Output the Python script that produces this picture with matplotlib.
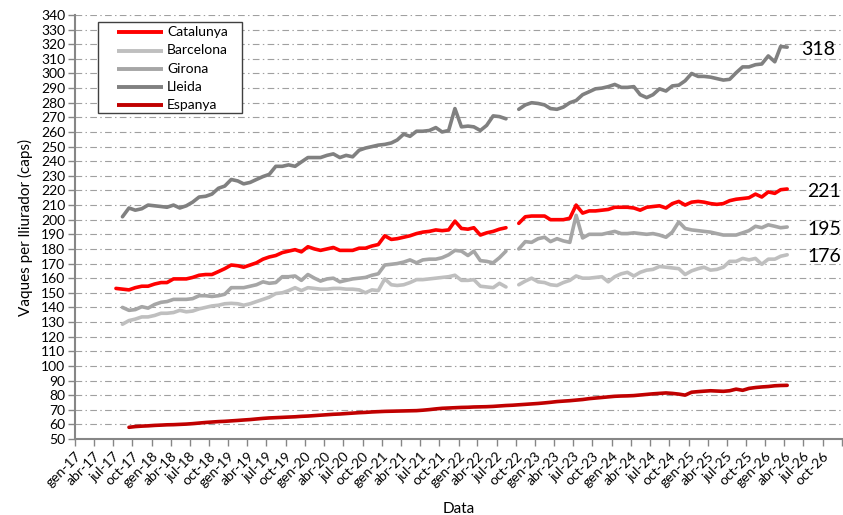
import matplotlib
matplotlib.use("Agg")
import matplotlib.pyplot as plt
from matplotlib.patches import Rectangle
from matplotlib.lines import Line2D
from matplotlib.transforms import ScaledTranslation
import pandas as pd
import numpy as np
from datetime import datetime

nan = np.nan

# ---- data (monthly values, one per month; NaN = missing) ----
catalunya_start = "2017-07-01"
catalunya = [
    153, 152.5, 152, 153.5, 154.5, 154.5,                                   # 2017 Jul-Dec
    156, 157, 157, 159.5, 159.5, 159.5, 160.5, 162, 162.5, 162.5, 164.5, 166.5,  # 2018
    169, 168.5, 167.5, 169, 170.5, 173, 174.5, 175.5, 177.5, 178.5, 179.5, 178,  # 2019
    181.5, 180, 179, 180, 181, 179, 179, 179, 180.5, 180.5, 182, 183,            # 2020
    189, 186.5, 187, 188, 189, 190.5, 191.5, 192, 193, 192.5, 193, 199,          # 2021
    194, 193.5, 194.5, 189.5, 191, 192, 193.5, 194.5, nan, 197.5, 202, 202.5,    # 2022
    202.5, 202.5, 200, 200, 200, 201, 210, 204.5, 206, 206, 206.5, 207,          # 2023
    208.5, 208.5, 208.5, 208, 206.5, 208.5, 209, 209.5, 208, 211, 212.5, 210,    # 2024
    212, 212.5, 212, 211, 210.5, 211, 213, 214, 214.5, 215, 217.5, 215.5,        # 2025
    219, 218, 220.5, 221,                                                        # 2026 Jan-Apr
]

barcelona_start = "2017-08-01"
barcelona = [
    128.5, 131, 132, 133.5, 133.5,
    134.5, 136, 136, 136.5, 138, 137, 137.5, 139, 140, 141, 141.5, 142.5,
    142.8, 142.5, 141.5, 142.5, 144, 145.5, 147, 149.5, 150, 151.5, 153.5, 151.5,
    153.5, 153, 152.5, 152.5, 153, 153, 152.5, 152.5, 152, 150, 152, 151.5,
    159.5, 155.5, 155, 155.5, 157, 159, 159, 159.5, 160, 160.5, 161, 162,
    158.5, 158.5, 159, 154.5, 154, 153.5, 156.5, 154, nan, 155.5, 158, 160,
    157.5, 157, 155.5, 155, 157, 158.5, 161.5, 160, 160, 160.5, 161, 157.5,
    161, 163, 164, 161.5, 164, 165.5, 166, 168, 167.5, 167, 166.5, 162.5,
    165, 166.5, 167.5, 165.5, 166, 167.5, 171.5, 171.5, 173.5, 172.5, 173.5, 169.5,
    173, 173, 175, 176,
]

girona_start = "2017-08-01"
girona = [
    140, 138, 138.5, 140.5, 139.5,
    142, 143.5, 144, 145.5, 145.5, 145.5, 146, 148, 148, 147.5, 148, 149,
    153.5, 153.5, 153.5, 154.5, 155.5, 157.5, 156.5, 157, 161, 161, 161.5, 158.5,
    162.5, 160, 158, 159.5, 160, 157.5, 158.5, 159.5, 160, 160.5, 162, 163,
    169, 169.5, 170, 171, 172.5, 170.5, 172.5, 173, 173, 174, 176, 179,
    178.5, 175.5, 178.5, 172, 171.5, 170.5, 174, 178.5, nan, 180, 185, 184.5,
    187, 188, 185, 187, 185.5, 184.5, 203, 187.5, 190, 190, 190, 191,
    192, 190.5, 190.5, 191, 190.5, 190, 190.5, 189.5, 188, 191.5, 198.5, 194,
    193, 192.5, 192, 191.5, 190.5, 189.5, 189.5, 189.5, 191, 192.5, 195.5, 194.5,
    196.5, 195.5, 194.5, 195,
]

lleida_start = "2017-08-01"
lleida = [
    202, 208, 206.5, 207.5, 210,
    209.5, 209, 208.5, 210, 208, 209.5, 212, 215.5, 216, 217.5, 221.5, 223,
    227.5, 226.5, 224.5, 225.5, 227.5, 229.5, 231, 236.5, 236.5, 237.5, 236.5, 239.5,
    242.5, 242.5, 242.5, 244, 245, 242.5, 244, 243, 247.5, 249, 250, 251,
    251.5, 252.5, 254.5, 258.5, 257, 260.5, 260.5, 261, 263, 260, 261, 276,
    263.5, 264, 263.5, 261, 264.5, 271, 270.5, 269, nan, 275.5, 278.5, 280,
    279.5, 278.5, 276, 275.5, 277, 280, 281.5, 285.5, 287.5, 289.5, 290, 291,
    292.5, 290.5, 290.5, 291, 285.5, 283.5, 285.5, 289.5, 288, 291.5, 292, 295,
    300, 298, 298, 297.5, 296.5, 295.5, 296, 300.5, 304.5, 304.5, 306, 306.5,
    312, 308, 318.5, 318,
]

espanya_start = "2017-09-01"
espanya = [
    58, 58.5, 58.8, 59,
    59.3, 59.5, 59.7, 59.8, 60, 60.2, 60.5, 60.9, 61.3, 61.6, 61.9, 62.1,
    62.4, 62.7, 63, 63.3, 63.7, 64.1, 64.4, 64.6, 64.8, 65, 65.2, 65.5,
    65.7, 66, 66.3, 66.6, 66.9, 67.1, 67.4, 67.7, 68, 68.2, 68.5, 68.7,
    68.9, 69, 69.1, 69.2, 69.3, 69.4, 69.7, 70.1, 70.6, 71, 71.2, 71.4,
    71.6, 71.7, 71.9, 72, 72.1, 72.3, 72.6, 72.9, 73.1, 73.4, 73.7, 74,
    74.3, 74.7, 75.1, 75.6, 75.9, 76.2, 76.6, 77, 77.6, 78, 78.4, 78.8,
    79.2, 79.4, 79.5, 79.7, 80.1, 80.5, 80.9, 81.2, 81.5, 81.2, 80.7, 80,
    82, 82.4, 82.7, 83, 82.8, 82.6, 83, 84.1, 83.3, 84.6, 85.2, 85.6,
    85.9, 86.4, 86.6, 86.7,
]

series_names = ["Catalunya", "Barcelona", "Girona", "Lleida", "Espanya"]
series_starts = [catalunya_start, barcelona_start, girona_start, lleida_start, espanya_start]
series_values = [catalunya, barcelona, girona, lleida, espanya]
series_colors = ["#FF0000", "#BFBFBF", "#A6A6A6", "#808080", "#C00000"]
labelled_series = ["Lleida", "Catalunya", "Girona", "Barcelona"]

quarter_names = ["gen", "abr", "jul", "oct"]
tick_years = list(range(2017, 2027))

# ---- figure ----
plt.rcParams["font.family"] = ["Lato", "DejaVu Sans"]
W, H = 843, 515
fig = plt.figure(figsize=(W / 100, H / 100), dpi=100)
ax = fig.add_axes([75 / W, 1 - 439 / H, 767 / W, 424 / H])

for name, start, vals, col in zip(series_names, series_starts, series_values, series_colors):
    dates = pd.date_range(start, periods=len(vals), freq="MS") + pd.Timedelta(days=14)
    ax.plot(dates, vals, color=col, lw=2.6, label=name,
            solid_joinstyle="round", solid_capstyle="round")
    if name in labelled_series:
        last = vals[-1]
        dx = 10 if name == "Lleida" else 14.5
        ax.annotate(f"{last:.0f}", xy=(dates[-1], last), xytext=(dx, -1.5),
                    textcoords="offset points", va="center", ha="left",
                    fontsize=14, color="#000000")

# axes
ax.set_ylim(50, 340)
ax.set_yticks(np.arange(50, 341, 10))
ax.set_xlim(datetime(2017, 1, 1), datetime(2027, 1, 1))
tick_dates = pd.date_range("2017-01-01", "2027-01-01", freq="3MS")
tick_labels = [f"{q}-{str(y)[2:]}" for y in tick_years for q in quarter_names] + [""]
ax.set_xticks(tick_dates)
ax.set_xticklabels(tick_labels, rotation=45, ha="right", va="top",
                   rotation_mode="anchor")
shift = ScaledTranslation(-8 / 100, 0, fig.dpi_scale_trans)
for lbl in ax.get_xticklabels():
    lbl.set_transform(lbl.get_transform() + shift)

ax.tick_params(axis="both", direction="out", length=5, width=1, color="#868686",
               labelsize=10, labelcolor="#000000")
ax.tick_params(axis="x", pad=3)
ax.tick_params(axis="y", pad=2)

for s in ["top", "right"]:
    ax.spines[s].set_visible(False)
for s in ["left", "bottom"]:
    ax.spines[s].set_color("#868686")
    ax.spines[s].set_linewidth(1.5)

ax.yaxis.grid(True, color="#A0A0A0", lw=0.8, linestyle=(0, (6, 3, 1.3, 3)))
ax.set_axisbelow(True)

ax.set_ylabel("Vaques per lliurador (caps)", fontsize=11, labelpad=6)
ax.set_xlabel("Data", fontsize=11, labelpad=9)

# legend: framed box with one sample line + name per series
frame = Rectangle((98 / W, 1 - 113 / H), 144 / W, 91 / H, transform=fig.transFigure,
                  facecolor="white", edgecolor="#404040", lw=1.0, zorder=4)
fig.add_artist(frame)
row_y = [32.3, 50.5, 68.7, 86.9, 105.1]
for name, col, yy in zip(series_names, series_colors, row_y):
    fig.add_artist(Line2D([117 / W, 163 / W], [1 - yy / H, 1 - yy / H],
                          transform=fig.transFigure, color=col, lw=2.8,
                          solid_capstyle="butt", zorder=5))
    fig.text(167 / W, 1 - yy / H, name, fontsize=10, va="center", ha="left",
             color="#000000", zorder=5)

fig.savefig("out.png", dpi=100)
